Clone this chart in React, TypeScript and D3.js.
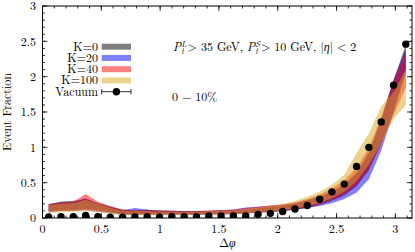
import React from "react";
import * as d3 from "d3";

const W = 415;
const H = 252;
const NB = 30;
const bins = d3.range(NB);

const vacuum = [0.015, 0.02, 0.02, 0.035, 0.02, 0.01, 0.01, 0.015, 0.018, 0.01, 0.018, 0.018, 0.018, 0.028, 0.028, 0.028, 0.028, 0.052, 0.066, 0.093, 0.127, 0.177, 0.266, 0.37, 0.48, 0.73, 1.0, 1.36, 1.88, 2.46];

const k0Low = [0.1, 0.11, 0.12, 0.13, 0.11, 0.085, 0.055, 0.05, 0.055, 0.055, 0.055, 0.05, 0.05, 0.055, 0.055, 0.06, 0.065, 0.075, 0.085, 0.095, 0.115, 0.145, 0.185, 0.245, 0.32, 0.45, 0.68, 1.05, 1.5, 2.1];
const k0High = [0.19, 0.235, 0.245, 0.27, 0.21, 0.16, 0.115, 0.105, 0.115, 0.105, 0.105, 0.095, 0.095, 0.1, 0.105, 0.11, 0.12, 0.135, 0.155, 0.175, 0.205, 0.25, 0.3, 0.37, 0.47, 0.64, 0.93, 1.38, 1.95, 2.45];
const k20Low = [0.08, 0.1, 0.1, 0.11, 0.09, 0.07, 0.05, 0.05, 0.05, 0.045, 0.045, 0.045, 0.045, 0.05, 0.05, 0.055, 0.07, 0.08, 0.09, 0.1, 0.12, 0.14, 0.17, 0.21, 0.27, 0.36, 0.55, 0.95, 1.5, 2.05];
const k20High = [0.19, 0.22, 0.22, 0.28, 0.21, 0.16, 0.11, 0.14, 0.12, 0.1, 0.1, 0.1, 0.1, 0.1, 0.11, 0.12, 0.15, 0.16, 0.17, 0.19, 0.21, 0.25, 0.3, 0.37, 0.47, 0.63, 0.92, 1.4, 1.95, 2.4];
const k40Low = [0.09, 0.1, 0.1, 0.12, 0.1, 0.08, 0.05, 0.05, 0.05, 0.05, 0.05, 0.05, 0.05, 0.05, 0.05, 0.06, 0.065, 0.075, 0.085, 0.1, 0.12, 0.15, 0.19, 0.25, 0.33, 0.46, 0.68, 1.05, 1.45, 1.85];
const k40High = [0.2, 0.22, 0.23, 0.34, 0.23, 0.17, 0.12, 0.11, 0.11, 0.11, 0.1, 0.1, 0.1, 0.11, 0.11, 0.12, 0.14, 0.16, 0.18, 0.19, 0.22, 0.27, 0.33, 0.42, 0.53, 0.71, 0.99, 1.43, 1.95, 2.35];
const k100Low = [0.07, 0.08, 0.09, 0.1, 0.08, 0.06, 0.04, 0.04, 0.04, 0.04, 0.04, 0.04, 0.045, 0.05, 0.05, 0.055, 0.065, 0.08, 0.09, 0.11, 0.13, 0.17, 0.21, 0.28, 0.37, 0.52, 0.75, 1.05, 1.4, 1.6];
const k100High = [0.18, 0.2, 0.21, 0.26, 0.2, 0.15, 0.1, 0.1, 0.1, 0.09, 0.09, 0.09, 0.09, 0.1, 0.1, 0.11, 0.13, 0.15, 0.17, 0.2, 0.24, 0.3, 0.37, 0.47, 0.61, 0.92, 1.2, 1.58, 1.78, 2.1];

const bandNames = ["K=0", "K=20", "K=40", "K=100"];
const bandColors = ["#000000", "#0000ff", "#ff0000", "#daa520"];
const bandLows = [k0Low, k20Low, k40Low, k100Low];
const bandHighs = [k0High, k20High, k40High, k100High];

const xMajor = [0, 0.5, 1, 1.5, 2, 2.5, 3];
const yMajor = [0, 0.5, 1, 1.5, 2, 2.5, 3];

const FONT = "'Latin Modern Roman','CMU Serif','Liberation Serif',serif";

export default function App() {
  const left = 42.5, right = 412, top = 6, bottom = 218;
  const x = d3.scaleLinear().domain([0, Math.PI]).range([left, right]);
  const y = d3.scaleLinear().domain([0, 3]).range([bottom, top]);
  const binW = Math.PI / NB;
  const cx = (i: number) => x((i + 0.5) * binW);

  const xMinor = d3.range(0, 3.15, 0.1);
  const yMinor = d3.range(0, 3.01, 0.1);

  const fmt = (v: number) => String(v);

  return (
    <svg width={W} height={H} style={{ position: "absolute", left: 0, top: 0, background: "#fff" }} fontFamily={FONT}>
      <rect x={0} y={0} width={W} height={H} fill="#fff" />
      <defs>
        <clipPath id="plotclip">
          <rect x={left} y={top} width={right - left} height={bottom - top} />
        </clipPath>
      </defs>
      <g clipPath="url(#plotclip)">
        {bandNames.map((name, k) => {
          const area = d3
            .area<number>()
            .x((i) => cx(i))
            .y0((i) => y(bandLows[k][i]))
            .y1((i) => y(bandHighs[k][i]));
          return <path key={name} d={area(bins) || ""} fill={bandColors[k]} fillOpacity={0.5} stroke="none" />;
        })}
        {vacuum.map((v, i) => (
          <circle key={i} cx={cx(i)} cy={y(v)} r={3.7} fill="#000" />
        ))}
      </g>
      <rect x={left} y={top} width={right - left} height={bottom - top} fill="none" stroke="#000" strokeWidth={1} />
      {xMinor.map((v, i) => (
        <g key={"xm" + i}>
          <line x1={x(v)} x2={x(v)} y1={bottom} y2={bottom - 2.5} stroke="#000" strokeWidth={0.8} />
          <line x1={x(v)} x2={x(v)} y1={top} y2={top + 2.5} stroke="#000" strokeWidth={0.8} />
        </g>
      ))}
      {xMajor.map((v) => (
        <g key={"xM" + v}>
          <line x1={x(v)} x2={x(v)} y1={bottom} y2={bottom - 5} stroke="#000" strokeWidth={0.8} />
          <line x1={x(v)} x2={x(v)} y1={top} y2={top + 5} stroke="#000" strokeWidth={0.8} />
          <text x={x(v)} y={bottom + 15} textAnchor="middle" fontSize={12}>
            {fmt(v)}
          </text>
        </g>
      ))}
      {yMinor.map((v, i) => (
        <g key={"ym" + i}>
          <line x1={left} x2={left + 2.5} y1={y(v)} y2={y(v)} stroke="#000" strokeWidth={0.8} />
          <line x1={right} x2={right - 2.5} y1={y(v)} y2={y(v)} stroke="#000" strokeWidth={0.8} />
        </g>
      ))}
      {yMajor.map((v) => (
        <g key={"yM" + v}>
          <line x1={left} x2={left + 5} y1={y(v)} y2={y(v)} stroke="#000" strokeWidth={0.8} />
          <line x1={right} x2={right - 5} y1={y(v)} y2={y(v)} stroke="#000" strokeWidth={0.8} />
          <text x={36} y={y(v) + 4.2} textAnchor="end" fontSize={12}>
            {fmt(v)}
          </text>
        </g>
      ))}
      <text x={(left + right) / 2} y={247} textAnchor="middle" fontSize={12}>
        Δ<tspan fontStyle="italic">φ</tspan>
      </text>
      <text transform={`translate(11,${(top + bottom) / 2}) rotate(-90)`} textAnchor="middle" fontSize={12}>
        Event Fraction
      </text>
      {bandNames.map((name, k) => {
        const ly = 46.7 + k * 11.25;
        return (
          <g key={"lg" + name}>
            <text x={98} y={ly + 4} textAnchor="end" fontSize={12}>
              {name}
            </text>
            <rect x={101.7} y={ly - 3} width={29.3} height={6} fill={bandColors[k]} fillOpacity={0.5} />
          </g>
        );
      })}
      <g>
        <text x={98} y={46.7 + 4 * 11.25 + 4} textAnchor="end" fontSize={12}>
          Vacuum
        </text>
        <line x1={101.7} x2={131} y1={91.7} y2={91.7} stroke="#000" strokeWidth={0.8} />
        <line x1={101.7} x2={101.7} y1={89} y2={94.4} stroke="#000" strokeWidth={0.8} />
        <line x1={131} x2={131} y1={89} y2={94.4} stroke="#000" strokeWidth={0.8} />
        <circle cx={116.4} cy={91.7} r={3.7} fill="#000" />
      </g>
      <text x={173} y={51} fontSize={12}>
        <tspan fontStyle="italic">P</tspan>
        <tspan fontStyle="italic" fontSize={8.5} dy={-4.5}>L</tspan>
        <tspan fontStyle="italic" fontSize={8.5} dx={-5.2} dy={7.5}>t</tspan>
        <tspan dx={3.5} dy={-3}>{"> 35 GeV, "}</tspan>
        <tspan fontStyle="italic">P</tspan>
        <tspan fontStyle="italic" fontSize={8.5} dy={-4.5}>S</tspan>
        <tspan fontStyle="italic" fontSize={8.5} dx={-4.8} dy={7.5}>t</tspan>
        <tspan dx={3} dy={-3}>{"> 10 GeV, |"}</tspan>
        <tspan fontStyle="italic">η</tspan>
        <tspan>{"| < 2"}</tspan>
      </text>
      <text x={172} y={101} fontSize={12}>
        0 − 10%
      </text>
    </svg>
  );
}
